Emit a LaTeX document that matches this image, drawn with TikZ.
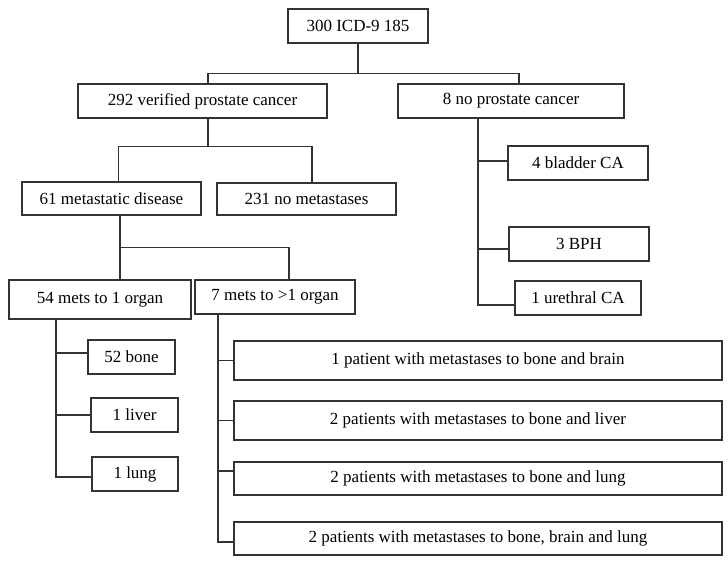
\documentclass[tikz,border=0pt]{standalone}
\usepackage{fontspec}
\setmainfont{Liberation Serif}
\begin{document}
\begin{tikzpicture}[
      x=1pt, y=-1pt,
      box/.style={draw=black!80, line width=1.1pt, inner sep=0pt,
      minimum height=34pt, font=\fontsize{17}{19}\selectfont},
      link/.style={draw=black!80, line width=1.1pt},
    ]
    \useasboundingbox (0,0) rectangle (728,565);
    % top levels
    \node[box, minimum width=140pt] (icd) at (358,26) {300 ICD-9 185};
    \node[box, minimum width=249pt] (ver) at (202.5,101) {292 verified prostate cancer};
    \node[box, minimum width=226pt] (nopc) at (511,101) {8 no prostate cancer};
    \node[box, minimum width=179pt, minimum height=33pt] (meta) at (111.5,198.5) {61 metastatic disease};
    \node[box, minimum width=179pt, minimum height=32pt] (nomet) at (306.5,199) {231 no metastases};
    \node[box, minimum width=182pt, minimum height=39pt] (one) at (100,299.5) {54 mets to 1 organ};
    \node[box, minimum width=160pt] (more) at (275,297) {7 mets to >1 organ};
    % no prostate cancer
    \node[box, minimum width=140pt] (bladder) at (578,163) {4 bladder CA};
    \node[box, minimum width=140pt] (bph) at (579,244) {3 BPH};
    \node[box, minimum width=126pt] (ureth) at (578,298) {1 urethral CA};
    % single organ
    \node[box, minimum width=87pt] (bone) at (131.5,357) {52 bone};
    \node[box, minimum width=87pt] (liver) at (134.5,415) {1 liver};
    \node[box, minimum width=86pt] (lung) at (135,474) {1 lung};
    % several organs
    \node[box, minimum width=488pt, minimum height=39pt] (pone) at (478,360.5) {1 patient with metastases to bone and brain};
    \node[box, minimum width=488pt, minimum height=39pt] (ptwo) at (478,420.5) {2 patients with metastases to bone and liver};
    \node[box, minimum width=488pt, minimum height=33pt] (pthree) at (478,478.5) {2 patients with metastases to bone and lung};
    \node[box, minimum width=488pt, minimum height=33pt] (pfour) at (478,538.5) {2 patients with metastases to bone, brain and lung};

    \draw[link] (icd.south) -- ++(0,30) coordinate (j1);
    \draw[link] ([xshift=5.5pt]ver.north) |- (j1) -| ([xshift=8pt]nopc.north);
    \draw[link] ([xshift=5.5pt]ver.south) -- ++(0,28) coordinate (j2);
    \draw[link] ([xshift=7pt]meta.north) |- (j2) -| ([xshift=5.5pt]nomet.north);
    \draw[link] ([xshift=8.5pt]meta.south) -- ++(0,32) coordinate (j3);
    \draw[link] ([xshift=20pt]one.north) |- (j3) -| ([xshift=14pt]more.north);

    \coordinate (k1) at ([xshift=-44pt]one.south);
    \draw[link] (k1) |- ([yshift=-3pt]lung.west);
    \draw[link] ([yshift=4pt]bone.west) -- ([yshift=4pt]bone.west -| k1);
    \draw[link] (liver.west) -- (liver.west -| k1);

    \coordinate (k2) at ([xshift=-57pt]more.south);
    \draw[link] (k2) |- ([yshift=-3.5pt]pfour.west);
    \draw[link] ([yshift=7.5pt]pthree.west) -- ([yshift=7.5pt]pthree.west -| k2);
    \foreach \n in {pone,ptwo}
      \draw[link] (\n.west) -- (\n.west -| k2);

    \coordinate (k3) at ([xshift=-33pt]nopc.south);
    \draw[link] (k3) |- ([yshift=-7pt]ureth.west);
    \draw[link] ([yshift=-5pt]bph.west) -- ([yshift=-5pt]bph.west -| k3);
    \draw[link] ([yshift=2pt]bladder.west) -- ([yshift=2pt]bladder.west -| k3);
\end{tikzpicture}
\end{document}
